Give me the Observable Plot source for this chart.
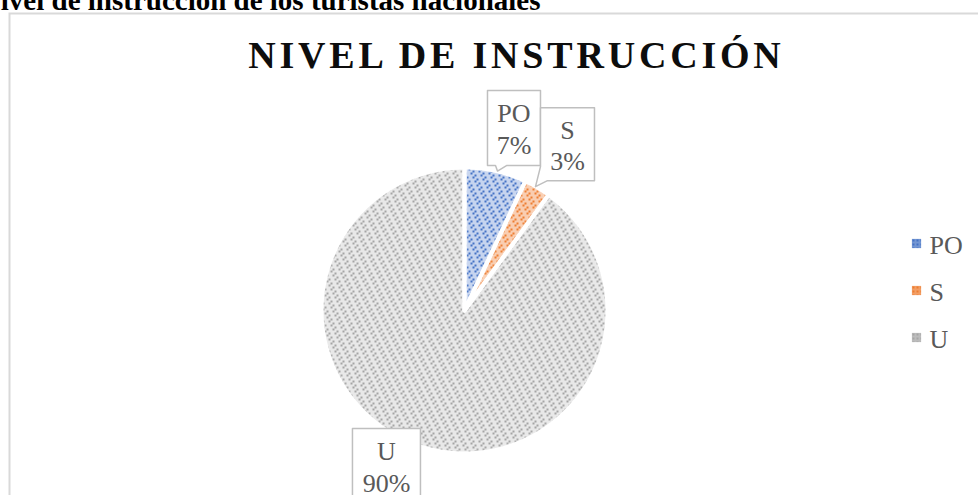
<!DOCTYPE html>
<html><head><meta charset="utf-8">
<script src="https://cdn.jsdelivr.net/npm/d3@7"></script>
<script src="https://cdn.jsdelivr.net/npm/@observablehq/plot@0.6"></script>
<style>html,body{margin:0;padding:0;background:#fff;overflow:hidden} svg{display:block}</style>
</head><body><div id="chart"></div>
<script>
// ---- data ----
const categories = ["PO", "S", "U"];
const values = [7, 3, 90];
const percentLabels = ["7%", "3%", "90%"];
const title = "NIVEL DE INSTRUCCIÓN";
const caption = "Nivel de instrucción de los turistas nacionales";

// ---- styles / layout ----
const darkColors = ["#4472c4", "#ed7d31", "#a5a5a5"];
const lightColors = ["#c6d4ef", "#f9cdb0", "#e8e8e8"];
const W = 978, H = 495, CX = 464, CY = 310, R = 143;
const LABEL_FACTOR = 1.25;
const labelNudge = [[10.5, -8], [12, -12.5], [-22.8, -14.5]]; // px (right, down)
const calloutShapes = [
  [[-26.5,-37.5],[26.5,-37.5],[26.5,37.5],[-7.5,37.5],[-16.5,43],[-18.5,37.5],[-26.5,37.5]],
  [[-27,-36.5],[27,-36.5],[27,36.5],[-20,36.5],[-32,42.5],[-27,22.5]],
  [[-34,-37.5],[34,-37.5],[34,37.5],[-34,37.5]]
];
const SERIF = "Liberation Serif, Times New Roman, serif";

// ---- geometry from data ----
const arcs = d3.pie().sort(null).value(d => d)(values);
const STEP = Math.PI / 360;
const slicePts = [];
arcs.forEach((a, i) => {
  slicePts.push({k: categories[i], x: 0, y: 0});
  const n = Math.max(2, Math.ceil((a.endAngle - a.startAngle) / STEP));
  for (let j = 0; j <= n; j++) {
    const t = a.startAngle + (a.endAngle - a.startAngle) * j / n;
    slicePts.push({k: categories[i], x: Math.sin(t), y: Math.cos(t)});
  }
});
const labelData = arcs.map((a, i) => {
  const mid = (a.startAngle + a.endAngle) / 2;
  return {
    k: categories[i],
    text: categories[i] + "\n" + percentLabels[i],
    x: Math.sin(mid) * LABEL_FACTOR + labelNudge[i][0] / R,
    y: Math.cos(mid) * LABEL_FACTOR - labelNudge[i][1] / R
  };
});
const calloutPts = [];
labelData.forEach((l, i) => {
  calloutShapes[i].forEach(([dx, dy]) => calloutPts.push({k: l.k, x: l.x + dx / R, y: l.y - dy / R}));
});

const marks = [
  Plot.frame({insetLeft: 9, insetTop: 13, insetRight: -10, insetBottom: -10, stroke: "#d9d9d9", strokeWidth: 2}),
  Plot.text([caption], {frameAnchor: "top-left", textAnchor: "end", lineAnchor: "bottom", dx: 540, dy: 9,
    fontSize: 29, fontWeight: "bold", fontFamily: SERIF, fill: "#000"}),
  Plot.text([title], {frameAnchor: "top-left", textAnchor: "middle", lineAnchor: "bottom", dx: 514, dy: 67,
    fontSize: 38, fontWeight: "bold", fontFamily: SERIF, fill: "#0d0d0d"}),
];
categories.forEach((c, i) => {
  marks.push(Plot.line(slicePts.filter(d => d.k === c), {x: "x", y: "y", curve: "linear-closed",
    fill: `url(#pat${i})`, stroke: "none"}));
});
marks.push(Plot.line(slicePts, {x: "x", y: "y", z: "k", curve: "linear-closed", fill: "none", stroke: "white", strokeWidth: 4}));
marks.push(Plot.line(calloutPts, {x: "x", y: "y", z: "k", curve: "linear-closed", fill: "white", stroke: "#bfbfbf", strokeWidth: 1.5}));
marks.push(Plot.text(labelData, {x: "x", y: "y", text: "text", lineAnchor: "middle", lineHeight: 1.2,
  fontSize: 26, fontFamily: SERIF, fill: "#595959"}));
categories.forEach((c, i) => {
  marks.push(Plot.dot([c], {frameAnchor: "top-left", dx: 916, dy: 243 + 47 * i, symbol: "square", r: 5.2,
    fill: `url(#lpat${i})`, stroke: "none"}));
  marks.push(Plot.text([c], {frameAnchor: "top-left", dx: 929, dy: 253 + 47 * i, textAnchor: "start", lineAnchor: "bottom",
    fontSize: 26, fontFamily: SERIF, fill: "#595959"}));
});

const svg = Plot.plot({
  width: W, height: H,
  marginTop: 0, marginRight: 0, marginBottom: 0, marginLeft: 0,
  x: {domain: [-CX / R, (W - CX) / R], axis: null},
  y: {domain: [-(H - CY) / R, CY / R], axis: null},
  style: {background: "#fff", overflow: "hidden"},
  marks
});

// patterns (dashed upward diagonal) and soft-edge filter
const s = d3.select(svg);
const defs = s.insert("defs", ":first-child");
const CELL = 2, T = 9; // tile of 9x9 cells
const onCells = [];
for (let y = 0; y < T; y++) for (let x = 0; x < T; x++) {
  if ((x + y) % 3 !== 0) continue;
  const L = Math.floor((x + y) / 3);
  if (((y + L) % 3) < 2) onCells.push([x, y]);
}
darkColors.forEach((dc, i) => {
  const p = defs.append("pattern").attr("id", `pat${i}`).attr("patternUnits", "userSpaceOnUse")
    .attr("width", T * CELL).attr("height", T * CELL);
  p.append("rect").attr("width", T * CELL).attr("height", T * CELL).attr("fill", lightColors[i]);
  onCells.forEach(([cx, cy]) =>
    p.append("rect").attr("x", cx * CELL).attr("y", cy * CELL).attr("width", CELL).attr("height", CELL).attr("fill", dc));
  const lp = defs.append("pattern").attr("id", `lpat${i}`).attr("patternUnits", "userSpaceOnUse")
    .attr("width", 4).attr("height", 4);
  lp.append("rect").attr("width", 4).attr("height", 4).attr("fill", dc).attr("fill-opacity", 0.75);
  lp.append("rect").attr("width", 2).attr("height", 2).attr("fill", dc);
});
const f = defs.append("filter").attr("id", "soft").attr("x", "-10%").attr("y", "-10%").attr("width", "120%").attr("height", "120%");
f.append("feGaussianBlur").attr("in", "SourceAlpha").attr("stdDeviation", 2).attr("result", "b");
f.append("feComposite").attr("in", "SourceGraphic").attr("in2", "b").attr("operator", "in");
s.selectAll('g[aria-label="line"]').filter(function() {
  return (this.getAttribute("fill") || "").startsWith("url(#pat");
}).attr("filter", "url(#soft)");
s.selectAll('g[aria-label="text"] text').filter(function() {
  return this.textContent === title;
}).style("letter-spacing", "3.8px").attr("dx", 1.9);

document.getElementById("chart").appendChild(svg);
</script>
</body></html>
